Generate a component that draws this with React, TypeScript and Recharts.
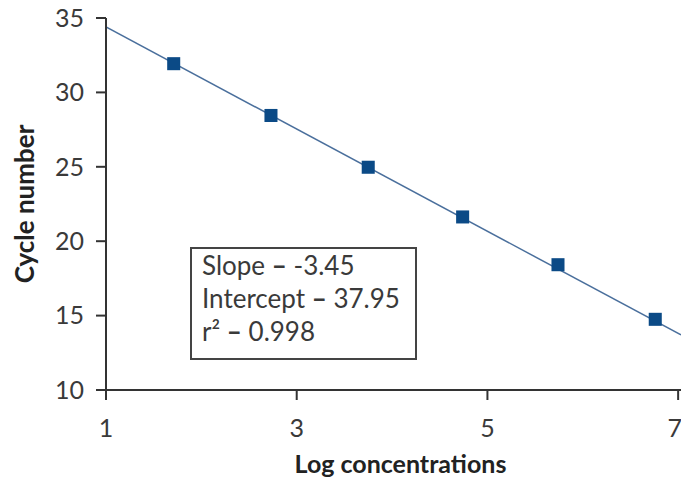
import {
  ComposedChart,
  Scatter,
  Line,
  XAxis,
  YAxis,
  ZAxis,
} from 'recharts';

// Measured points (log concentration vs. Ct)
const logConc = [1.71, 2.73, 3.75, 4.74, 5.74, 6.76];
const cycleNumber = [31.93, 28.45, 24.97, 21.63, 18.42, 14.75];

// Fitted regression line, read at the two ends of the plot
const fitX = [1, 7.03];
const fitY = [34.4, 13.7];

const xTicks = [1, 3, 5, 7];
const yTicks = [10, 15, 20, 25, 30, 35];

const statLabels = ['Slope', 'Intercept', 'r\u00b2'];
const statValues = ['-3.45', '37.95', '0.998'];

const colors = {
  marker: '#0b4a86',
  fit: '#4a6f9c',
  axis: '#333333',
  text: '#3a3a3a',
  title: '#222222',
};

const font = 'Lato, "Open Sans", sans-serif';

const points = logConc.map((x, i) => ({ x, y: cycleNumber[i] }));
const fitLine = fitX.map((x, i) => ({ x, y: fitY[i] }));

export default function App() {
  return (
    <div style={{ position: 'absolute', left: 0, top: 0, width: 681, height: 481, background: '#fff' }}>
      <ComposedChart
        width={681}
        height={481}
        margin={{ top: 18, right: 0, left: 0, bottom: 0 }}
      >
        <XAxis
          type="number"
          dataKey="x"
          domain={[1, 7.03]}
          ticks={xTicks}
          allowDataOverflow
          height={91}
          tickSize={10}
          tickMargin={19}
          tick={{ fill: colors.text, fontSize: 25, fontFamily: font }}
          axisLine={{ stroke: colors.axis, strokeWidth: 2 }}
          tickLine={{ stroke: colors.axis, strokeWidth: 2 }}
          label={{
            value: 'Log concentrations',
            position: 'insideBottom',
            offset: 8,
            dx: 7,
            fill: colors.title,
            style: { fontSize: 25, fontWeight: 700, fontFamily: font },
          }}
        />
        <YAxis
          type="number"
          dataKey="y"
          domain={[10, 35]}
          ticks={yTicks}
          width={106}
          tickSize={10}
          tickMargin={12}
          tick={{ fill: colors.text, fontSize: 25, fontFamily: font }}
          axisLine={{ stroke: colors.axis, strokeWidth: 2 }}
          tickLine={{ stroke: colors.axis, strokeWidth: 2 }}
          label={{
            value: 'Cycle number',
            angle: -90,
            position: 'insideLeft',
            offset: 25,
            fill: colors.title,
            style: { textAnchor: 'middle', fontSize: 26, fontWeight: 700, fontFamily: font },
          }}
        />
        <ZAxis range={[170, 170]} />
        <Line
          data={fitLine}
          dataKey="y"
          stroke={colors.fit}
          strokeWidth={1.5}
          dot={false}
          activeDot={false}
          isAnimationActive={false}
        />
        <Scatter
          data={points}
          dataKey="y"
          shape="square"
          fill={colors.marker}
          legendType="none"
          isAnimationActive={false}
        />
      </ComposedChart>
      <div
        style={{
          position: 'absolute',
          left: 190,
          top: 247,
          width: 223,
          height: 109,
          border: '2px solid #444',
          background: '#fff',
          fontFamily: font,
          fontSize: 26,
          color: colors.text,
        }}
      >
        {statLabels.map((label, i) => (
          <div key={label} style={{ height: 33, lineHeight: '33px', paddingLeft: 10, whiteSpace: 'nowrap' }}>
            {label} <span style={{ fontWeight: 900 }}>{'\u2013'}</span> {statValues[i]}
          </div>
        ))}
      </div>
    </div>
  );
}
